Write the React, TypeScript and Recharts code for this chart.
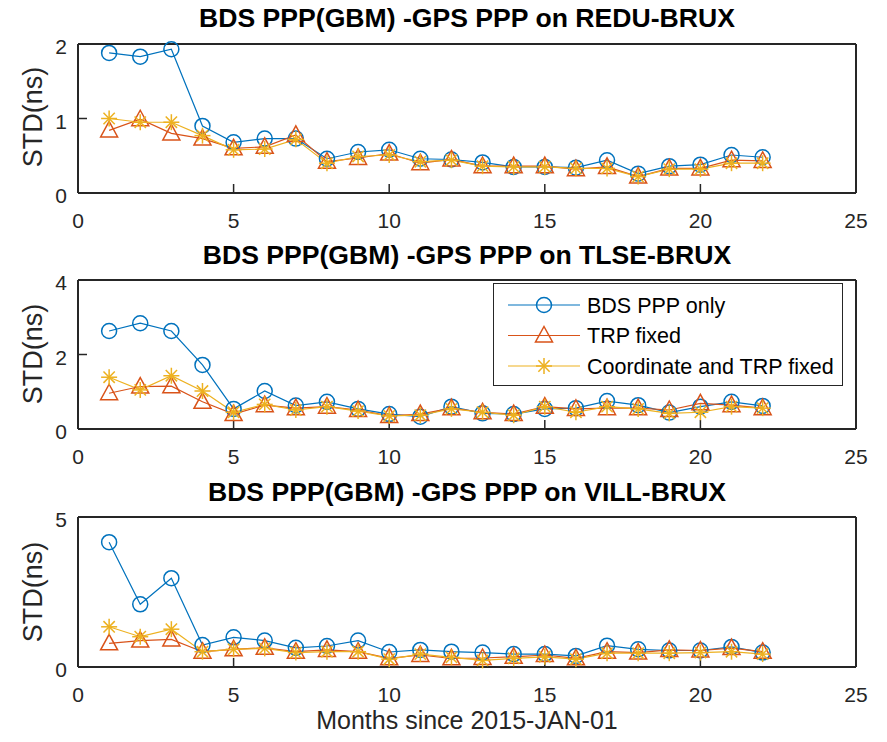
import React from 'react';
import { LineChart, Line, XAxis, YAxis, Legend } from 'recharts';

const months = [1, 2, 3, 4, 5, 6, 7, 8, 9, 10, 11, 12, 13, 14, 15, 16, 17, 18, 19, 20, 21, 22];
const xTicks = [0, 5, 10, 15, 20, 25];

const seriesKeys = ['bds', 'trp', 'coord'];
const seriesNames = ['BDS PPP only', 'TRP fixed', 'Coordinate and TRP fixed'];
const titles = [
  'BDS PPP(GBM) -GPS PPP on REDU-BRUX',
  'BDS PPP(GBM) -GPS PPP on TLSE-BRUX',
  'BDS PPP(GBM) -GPS PPP on VILL-BRUX',
];

// REDU-BRUX
const reduBds = [1.88, 1.83, 1.93, 0.9, 0.68, 0.73, 0.73, 0.46, 0.55, 0.58, 0.46, 0.45, 0.41, 0.35, 0.35, 0.34, 0.44, 0.26, 0.36, 0.38, 0.51, 0.48];
const reduTrp = [0.84, 0.99, 0.8, 0.73, 0.6, 0.62, 0.78, 0.42, 0.47, 0.53, 0.4, 0.45, 0.36, 0.36, 0.36, 0.32, 0.35, 0.22, 0.33, 0.33, 0.44, 0.43];
const reduCoord = [1.0, 0.95, 0.95, 0.77, 0.58, 0.59, 0.72, 0.4, 0.49, 0.51, 0.42, 0.44, 0.36, 0.35, 0.35, 0.33, 0.33, 0.22, 0.32, 0.32, 0.4, 0.4];

// TLSE-BRUX
const tlseBds = [2.63, 2.84, 2.63, 1.72, 0.54, 1.02, 0.63, 0.73, 0.54, 0.4, 0.33, 0.6, 0.42, 0.4, 0.54, 0.56, 0.75, 0.64, 0.44, 0.6, 0.73, 0.62];
const tlseTrp = [0.96, 1.14, 1.15, 0.73, 0.4, 0.64, 0.56, 0.6, 0.51, 0.35, 0.4, 0.56, 0.45, 0.4, 0.6, 0.54, 0.56, 0.56, 0.51, 0.69, 0.64, 0.56];
const tlseCoord = [1.39, 1.05, 1.43, 1.02, 0.45, 0.66, 0.51, 0.6, 0.48, 0.35, 0.37, 0.54, 0.45, 0.37, 0.6, 0.45, 0.6, 0.54, 0.42, 0.45, 0.6, 0.56];

// VILL-BRUX
const villBds = [4.16, 2.09, 2.96, 0.73, 0.99, 0.88, 0.64, 0.7, 0.88, 0.5, 0.57, 0.51, 0.48, 0.43, 0.43, 0.37, 0.71, 0.59, 0.55, 0.55, 0.67, 0.48];
const villTrp = [0.79, 0.88, 0.92, 0.51, 0.59, 0.64, 0.51, 0.57, 0.51, 0.29, 0.4, 0.29, 0.3, 0.34, 0.4, 0.29, 0.51, 0.48, 0.57, 0.55, 0.63, 0.51];
const villCoord = [1.34, 1.01, 1.26, 0.51, 0.59, 0.62, 0.48, 0.51, 0.51, 0.26, 0.43, 0.32, 0.22, 0.29, 0.34, 0.26, 0.46, 0.46, 0.46, 0.48, 0.51, 0.43];

const BLUE = '#0072BD';
const ORANGE = '#D95319';
const YELLOW = '#EDB120';
const AX = '#262626';
const FONT = '"Liberation Sans", Arial, Helvetica, sans-serif';
const TICK_FS = 21;

function rows(a: number[], b: number[], c: number[]) {
  return months.map((m, i) => ({ month: m, bds: a[i], trp: b[i], coord: c[i] }));
}

function CircleMark(cx: number, cy: number, key?: any) {
  return <circle key={key} cx={cx} cy={cy} r={7.5} fill="none" stroke={BLUE} strokeWidth={1.5} />;
}
function TriMark(cx: number, cy: number, key?: any) {
  return (
    <path
      key={key}
      d={`M${cx},${cy - 9} L${cx + 8.5},${cy + 6.5} L${cx - 8.5},${cy + 6.5} Z`}
      fill="none"
      stroke={ORANGE}
      strokeWidth={1.5}
    />
  );
}
function StarMark(cx: number, cy: number, key?: any) {
  const r = 8;
  const d = r * 0.707;
  return (
    <g key={key} stroke={YELLOW} strokeWidth={1.5}>
      <line x1={cx - r} y1={cy} x2={cx + r} y2={cy} />
      <line x1={cx} y1={cy - r} x2={cx} y2={cy + r} />
      <line x1={cx - d} y1={cy - d} x2={cx + d} y2={cy + d} />
      <line x1={cx - d} y1={cy + d} x2={cx + d} y2={cy - d} />
    </g>
  );
}

const dotCircle = (p: any) => (p.cx == null ? <g key={p.index} /> : CircleMark(p.cx, p.cy, p.index));
const dotTri = (p: any) => (p.cx == null ? <g key={p.index} /> : TriMark(p.cx, p.cy, p.index));
const dotStar = (p: any) => (p.cx == null ? <g key={p.index} /> : StarMark(p.cx, p.cy, p.index));

const markByKey: Record<string, (cx: number, cy: number, key?: any) => any> = {
  bds: CircleMark,
  trp: TriMark,
  coord: StarMark,
};

function LegendBox(props: any) {
  const payload = [...(props.payload || [])].sort(
    (a: any, b: any) => seriesKeys.indexOf(String(a.dataKey)) - seriesKeys.indexOf(String(b.dataKey))
  );
  return (
    <div
      style={{
        width: 350,
        height: 103,
        border: '1px solid #262626',
        background: '#fff',
        boxSizing: 'border-box',
        position: 'relative',
        fontFamily: FONT,
      }}
    >
      <svg width={348} height={101} style={{ position: 'absolute', left: 0, top: 0 }}>
        {payload.map((e: any, i: number) => {
          const y = 21 + i * 30.5;
          const mk = markByKey[String(e.dataKey)] || CircleMark;
          return (
            <g key={i}>
              <line x1={14} y1={y} x2={86} y2={y} stroke={e.color} strokeWidth={1.2} />
              {mk(50, y)}
              <text x={93} y={y} dy="0.35em" fontSize={21.5} fill="#000" fontFamily={FONT}>
                {e.value}
              </text>
            </g>
          );
        })}
      </svg>
    </div>
  );
}

const XTick = (p: any) => (
  <text x={p.x} y={p.y} dy="0.71em" textAnchor="middle" fontSize={TICK_FS} fill={AX} fontFamily={FONT}>
    {p.payload.value}
  </text>
);
const YTick = (p: any) => (
  <text x={p.x} y={p.y + 3} dy="0.355em" textAnchor="end" fontSize={TICK_FS} fill={AX} fontFamily={FONT}>
    {p.payload.value}
  </text>
);

type PanelProps = {
  data: any[];
  domain: [number, number];
  yTicks: number[];
  top: number;
  height: number;
  mt: number;
  mb: number;
  legend?: boolean;
};

function Panel({ data, domain, yTicks, top, height, mt, mb, legend }: PanelProps) {
  return (
    <div style={{ position: 'absolute', left: 0, top, width: 887, height }}>
      <LineChart width={887} height={height} data={data} margin={{ top: mt, right: 30, bottom: mb, left: 18 }}>
        <XAxis
          xAxisId="b"
          dataKey="month"
          type="number"
          domain={[0, 25]}
          ticks={xTicks}
          interval={0}
          height={30}
          tickSize={-9}
          tickMargin={29}
          axisLine={{ stroke: AX, strokeWidth: 2 }}
          tickLine={{ stroke: AX, strokeWidth: 1.5 }}
          tick={XTick}
        />
        <XAxis
          xAxisId="t"
          orientation="top"
          dataKey="month"
          type="number"
          domain={[0, 25]}
          ticks={xTicks}
          interval={0}
          height={1}
          tickSize={-9}
          axisLine={{ stroke: AX, strokeWidth: 2 }}
          tickLine={{ stroke: AX, strokeWidth: 1.5 }}
          tick={false}
        />
        <YAxis
          yAxisId="l"
          domain={domain}
          ticks={yTicks}
          interval={0}
          width={60}
          tickSize={-9}
          tickMargin={20}
          axisLine={{ stroke: AX, strokeWidth: 2 }}
          tickLine={{ stroke: AX, strokeWidth: 1.5 }}
          tick={YTick}
        />
        <YAxis
          yAxisId="r"
          orientation="right"
          domain={domain}
          ticks={yTicks}
          interval={0}
          width={1}
          tickSize={-9}
          axisLine={{ stroke: AX, strokeWidth: 2 }}
          tickLine={{ stroke: AX, strokeWidth: 1.5 }}
          tick={false}
        />
        <Line xAxisId="b" yAxisId="l" dataKey="bds" name={seriesNames[0]} stroke={BLUE} strokeWidth={1.2} dot={dotCircle} isAnimationActive={false} />
        <Line xAxisId="b" yAxisId="l" dataKey="trp" name={seriesNames[1]} stroke={ORANGE} strokeWidth={1.2} dot={dotTri} isAnimationActive={false} />
        <Line xAxisId="b" yAxisId="l" dataKey="coord" name={seriesNames[2]} stroke={YELLOW} strokeWidth={1.2} dot={dotStar} isAnimationActive={false} />
        {legend && (
          <Legend
            layout="horizontal"
            verticalAlign="middle"
            align="center"
            content={LegendBox}
            wrapperStyle={{ position: 'absolute', left: 493, top: 46, width: 350, height: 103 }}
          />
        )}
      </LineChart>
    </div>
  );
}

const titleTops = [3, 240, 477];
const yLabelCenters = [117, 354, 592];

export default function App() {
  return (
    <div style={{ position: 'absolute', left: 0, top: 0, width: 887, height: 742, background: '#fff', fontFamily: FONT }}>
      <Panel data={rows(reduBds, reduTrp, reduCoord)} domain={[0, 2]} yTicks={[0, 1, 2]} top={0} height={237} mt={43} mb={14} />
      <Panel data={rows(tlseBds, tlseTrp, tlseCoord)} domain={[0, 4]} yTicks={[0, 2, 4]} top={237} height={237} mt={42} mb={15} legend />
      <Panel data={rows(villBds, villTrp, villCoord)} domain={[0, 5]} yTicks={[0, 5]} top={474} height={268} mt={42} mb={45} />
      {titles.map((t, i) => (
        <div
          key={t}
          style={{
            position: 'absolute',
            left: 78,
            width: 778,
            top: titleTops[i],
            height: 30,
            lineHeight: '30px',
            textAlign: 'center',
            fontWeight: 'bold',
            fontSize: 26.6,
            color: '#000',
            whiteSpace: 'nowrap',
          }}
        >
          {t}
        </div>
      ))}
      {yLabelCenters.map((c, i) => (
        <div
          key={i}
          style={{
            position: 'absolute',
            left: 33 - 70,
            top: c - 16,
            width: 140,
            height: 32,
            lineHeight: '32px',
            textAlign: 'center',
            fontSize: 27,
            color: AX,
            transform: 'rotate(-90deg)',
            whiteSpace: 'nowrap',
          }}
        >
          STD(ns)
        </div>
      ))}
      <div
        style={{
          position: 'absolute',
          left: 78,
          width: 778,
          top: 705,
          height: 30,
          lineHeight: '30px',
          textAlign: 'center',
          fontSize: 25,
          color: AX,
          whiteSpace: 'nowrap',
        }}
      >
        Months since 2015-JAN-01
      </div>
    </div>
  );
}
